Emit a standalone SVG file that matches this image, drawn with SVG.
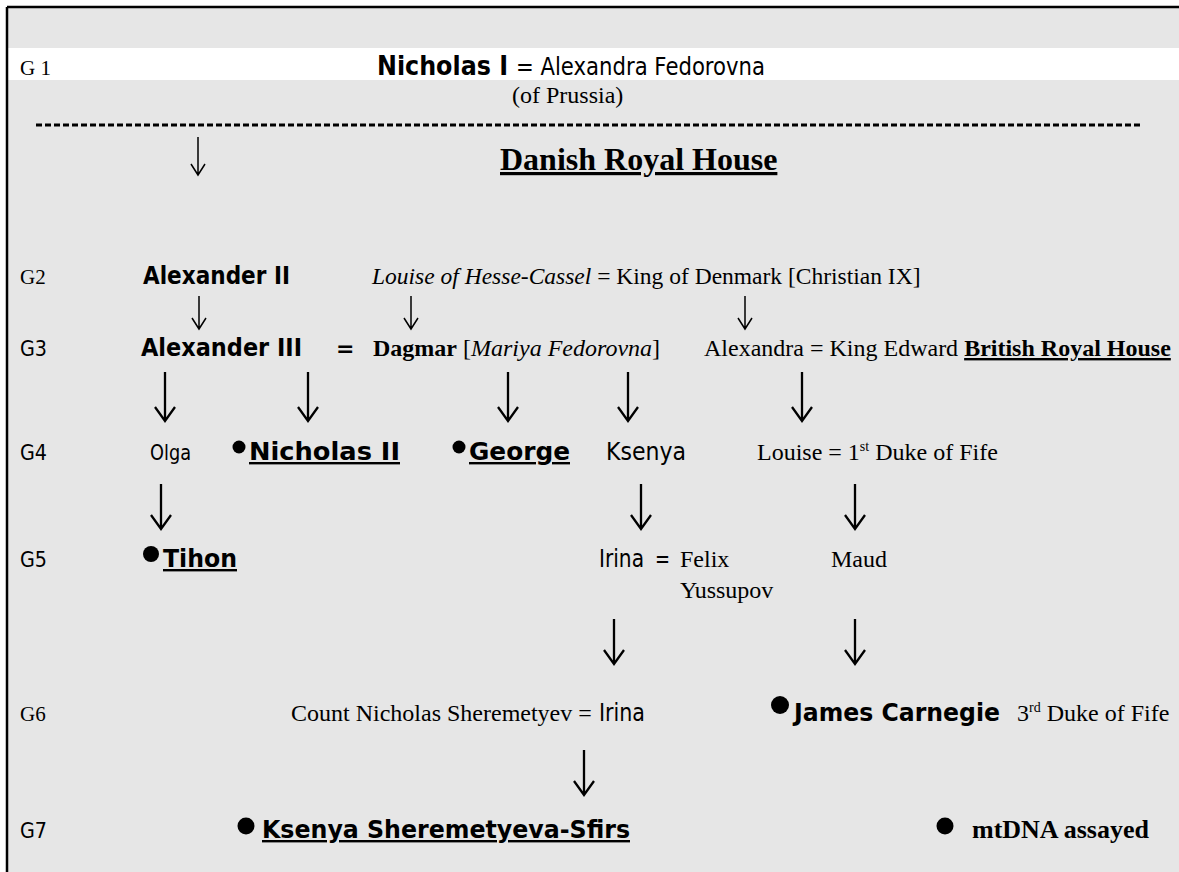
<svg xmlns="http://www.w3.org/2000/svg" width="1179" height="872" viewBox="0 0 1179 872">
<style>
.serif{font-family:"Liberation Serif","Times New Roman",serif;fill:#000}
.sans{font-family:"DejaVu Sans",Tahoma,sans-serif;fill:#000}
.b{font-weight:bold}
.i{font-style:italic}
.u{text-decoration:underline}
.arr{fill:none;stroke:#000;stroke-width:1.5}
.arrB{fill:none;stroke:#000;stroke-width:2.3}
</style>
<rect x="0" y="0" width="1179" height="872" fill="#fff"/>
<rect x="7" y="7" width="1172" height="865" fill="#e6e6e6"/>
<rect x="8" y="48" width="1171" height="32" fill="#fff"/>
<path d="M7 7H1179M7 7V872" stroke="#000" stroke-width="2.5" fill="none"/>
<line x1="36" y1="125" x2="1140" y2="125" stroke="#000" stroke-width="3" stroke-dasharray="6 3"/>

<g id="labels">
<text class="serif" x="20" y="75" font-size="21">G 1</text>
<text class="serif" x="20" y="284" font-size="21">G2</text>
<text class="sans" x="20" y="356" font-size="21" textLength="27" lengthAdjust="spacingAndGlyphs">G3</text>
<text class="sans" x="20" y="460" font-size="21" textLength="27" lengthAdjust="spacingAndGlyphs">G4</text>
<text class="sans" x="20" y="567" font-size="21" textLength="27" lengthAdjust="spacingAndGlyphs">G5</text>
<text class="serif" x="20" y="721" font-size="21">G6</text>
<text class="sans" x="20" y="838" font-size="21" textLength="27" lengthAdjust="spacingAndGlyphs">G7</text>
</g>

<g id="n-nicholas1">
<text class="sans b" x="377" y="75" font-size="26" textLength="131" lengthAdjust="spacingAndGlyphs">Nicholas I</text>
<text class="sans" x="516" y="75" font-size="24" textLength="249" lengthAdjust="spacingAndGlyphs">= Alexandra Fedorovna</text>
<text class="serif" x="512" y="103" font-size="24">(of Prussia)</text>
</g>

<g id="n-danish">
<text class="serif b u" x="500" y="170" font-size="32">Danish Royal House</text>
</g>

<g id="n-alexander2">
<text class="sans b" x="143" y="284" font-size="24" textLength="147" lengthAdjust="spacingAndGlyphs">Alexander II</text>
</g>
<g id="n-louise-hesse">
<text class="serif" x="372" y="284" font-size="23.5"><tspan class="i">Louise of Hesse-Cassel</tspan> = King of Denmark [Christian IX]</text>
</g>

<g id="n-alexander3">
<text class="sans b" x="141" y="356" font-size="24" textLength="161" lengthAdjust="spacingAndGlyphs">Alexander III</text>
<text class="sans b" x="336" y="356" font-size="22">=</text>
</g>
<g id="n-dagmar">
<text class="serif" x="373" y="356" font-size="24"><tspan class="b">Dagmar</tspan> [<tspan class="i">Mariya Fedorovna</tspan>]</text>
</g>
<g id="n-alexandra">
<text class="serif" x="704" y="356" font-size="24">Alexandra = King Edward <tspan class="b u">British Royal House</tspan></text>
</g>

<g id="n-olga">
<text class="sans" x="150" y="460" font-size="21" textLength="41" lengthAdjust="spacingAndGlyphs">Olga</text>
</g>
<g id="n-nicholas2">
<circle cx="239" cy="447" r="6.5"/>
<text class="sans b u" x="249" y="460" font-size="24" textLength="151" lengthAdjust="spacingAndGlyphs">Nicholas II</text>
</g>
<g id="n-george">
<circle cx="459" cy="447" r="6.5"/>
<text class="sans b u" x="469" y="460" font-size="24" textLength="101" lengthAdjust="spacingAndGlyphs">George</text>
</g>
<g id="n-ksenya">
<text class="sans" x="606" y="460" font-size="24" textLength="80" lengthAdjust="spacingAndGlyphs">Ksenya</text>
</g>
<g id="n-louise">
<text class="serif" x="757" y="460" font-size="24">Louise = 1<tspan font-size="14" dy="-9">st</tspan><tspan dy="9"> Duke of Fife</tspan></text>
</g>

<g id="n-tihon">
<circle cx="151" cy="554" r="8"/>
<text class="sans b u" x="163" y="567" font-size="24" textLength="74" lengthAdjust="spacingAndGlyphs">Tihon</text>
</g>
<g id="n-irina-felix">
<text class="sans" x="599" y="567" font-size="24" textLength="45" lengthAdjust="spacingAndGlyphs">Irina</text>
<text class="sans" x="655" y="567" font-size="24" textLength="15" lengthAdjust="spacingAndGlyphs">=</text>
<text class="serif" x="680" y="567" font-size="24">Felix</text>
<text class="serif" x="680" y="598" font-size="24">Yussupov</text>
</g>
<g id="n-maud">
<text class="serif" x="831" y="567" font-size="24">Maud</text>
</g>

<g id="n-count">
<text class="serif" x="291" y="721" font-size="24">Count Nicholas Sheremetyev =</text>
<text class="sans" x="599" y="721" font-size="24" textLength="46" lengthAdjust="spacingAndGlyphs">Irina</text>
</g>
<g id="n-james">
<circle cx="780" cy="705" r="9"/>
<text class="sans b" x="794" y="721" font-size="25" textLength="206" lengthAdjust="spacingAndGlyphs">James Carnegie</text>
<text class="serif" x="1017" y="721" font-size="24">3<tspan font-size="14" dy="-9">rd</tspan><tspan dy="9"> Duke of Fife</tspan></text>
</g>

<g id="n-ksenya-s">
<circle cx="246" cy="826" r="8.5"/>
<text class="sans b u" x="262" y="838" font-size="24" textLength="368" lengthAdjust="spacingAndGlyphs">Ksenya Sheremetyeva-Sfirs</text>
</g>
<g id="n-legend">
<circle cx="945" cy="826" r="8.5"/>
<text class="serif b" x="972" y="838" font-size="26">mtDNA assayed</text>
</g>

<g id="connectors">
<path class="arr" d="M198 137V175M191 164L198 175L205 164"/>
<path class="arr" d="M199 296V329M192 318L199 329L206 318"/>
<path class="arr" d="M411 296V329M404 318L411 329L418 318"/>
<path class="arr" d="M745 296V329M738 318L745 329L752 318"/>
<path class="arrB" d="M165 372V421M155 407L165 421L175 407"/>
<path class="arrB" d="M308 372V421M298 407L308 421L318 407"/>
<path class="arrB" d="M508 372V421M498 407L508 421L518 407"/>
<path class="arrB" d="M628 372V421M618 407L628 421L638 407"/>
<path class="arrB" d="M802 372V421M792 407L802 421L812 407"/>
<path class="arrB" d="M161 484V529M151 515L161 529L171 515"/>
<path class="arrB" d="M641 484V529M631 515L641 529L651 515"/>
<path class="arrB" d="M855 484V529M845 515L855 529L865 515"/>
<path class="arrB" d="M614 619V664M604 650L614 664L624 650"/>
<path class="arrB" d="M855 619V664M845 650L855 664L865 650"/>
<path class="arrB" d="M584 750V795M574 781L584 795L594 781"/>
</g>
</svg>
